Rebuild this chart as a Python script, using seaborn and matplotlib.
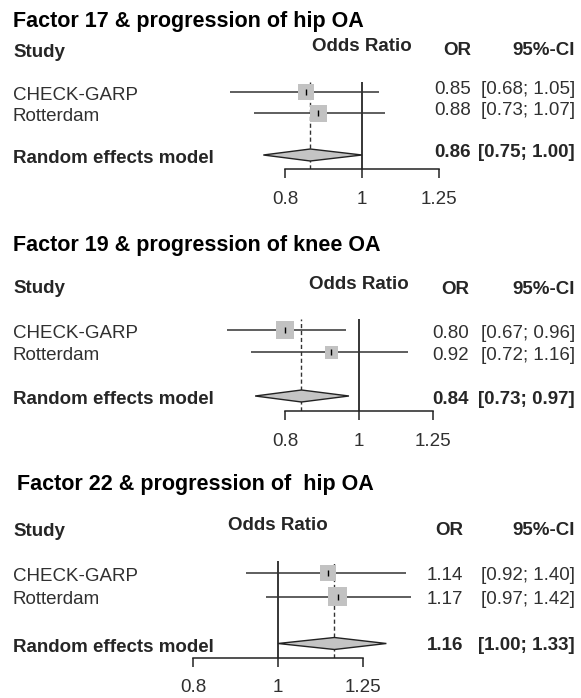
import matplotlib
matplotlib.use("Agg")
import matplotlib.pyplot as plt
import matplotlib.transforms as mtransforms
from matplotlib.patches import Polygon
from matplotlib.ticker import NullLocator
import numpy as np
import pandas as pd
import seaborn as sns

# --- data ---
titles = ["Factor 17 & progression of hip OA",
          "Factor 19 & progression of knee OA",
          "Factor 22 & progression of  hip OA"]
studies = ["CHECK-GARP", "Rotterdam"]
pooled_label = "Random effects model"

or_f17 = [0.85, 0.88]
lo_f17 = [0.68, 0.73]
hi_f17 = [1.05, 1.07]
pooled_f17 = [0.86, 0.75, 1.00]
weight_f17 = [16, 17]

or_f19 = [0.80, 0.92]
lo_f19 = [0.67, 0.72]
hi_f19 = [0.96, 1.16]
pooled_f19 = [0.84, 0.73, 0.97]
weight_f19 = [18, 13]

or_f22 = [1.14, 1.17]
lo_f22 = [0.92, 0.97]
hi_f22 = [1.40, 1.42]
pooled_f22 = [1.16, 1.00, 1.33]
weight_f22 = [16, 19]

ticks = [0.8, 1, 1.25]
tick_labels = ["0.8", "1", "1.25"]

W, H = 581, 698
DPI = 100
PT = 72 / DPI  # points per pixel

sns.set_theme(style="white")
plt.rcParams["font.family"] = ["Liberation Sans", "DejaVu Sans"]

BODY = 13.5
TITLE = 15.5
GREY_TXT = "#303030"

# layout of each panel, in pixels of the 581x698 picture
layout = [
    dict(row1=92, step=21, axis=169, one=362, scale=343, or_right=471,
         num_dy=2, title_y=27, study_y=57, odds_y=51, hdr_y=55, title_x=13),
    dict(row1=330, step=22, axis=411, one=359, scale=330, or_right=469,
         num_dy=8, title_y=251, study_y=293, odds_y=289, hdr_y=294, title_x=13),
    dict(row1=573, step=23.5, axis=658, one=278, scale=380, or_right=463,
         num_dy=7, title_y=490, study_y=536, odds_y=530, hdr_y=535, title_x=17),
]
data = [
    (or_f17, lo_f17, hi_f17, pooled_f17, weight_f17),
    (or_f19, lo_f19, hi_f19, pooled_f19, weight_f19),
    (or_f22, lo_f22, hi_f22, pooled_f22, weight_f22),
]

fig = plt.figure(figsize=(W / DPI, H / DPI), dpi=DPI)


def fx(px):
    return px / W


def fy(py):
    return 1 - py / H


AX_L, AX_R = 180, 470

for title, lay, (est, lo, hi, pooled, weight) in zip(titles, layout, data):
    df = pd.DataFrame({"study": studies, "est": est, "lo": lo, "hi": hi,
                       "row": np.arange(len(studies)), "w": weight})
    pooled_row = len(studies) + 1

    top = lay["row1"] - 0.5 * lay["step"]
    ax = fig.add_axes([fx(AX_L), fy(lay["axis"]), fx(AX_R - AX_L),
                       (lay["axis"] - top) / H])
    ax.set_xscale("log")
    xl = np.exp((AX_L - lay["one"]) / lay["scale"])
    xr = np.exp((AX_R - lay["one"]) / lay["scale"])
    ax.set_xlim(xl, xr)
    ybot = (lay["axis"] - lay["row1"]) / lay["step"]
    ax.set_ylim(ybot, -0.5)

    # reference line at 1 and dashed line at pooled estimate
    ax.axvline(1, color="black", lw=1.1, zorder=1)
    ax.axvline(pooled[0], color="#333333", lw=1.0, ls=(0, (3, 2)), zorder=1)

    # confidence intervals and weighted squares
    ax.hlines(df["row"], df["lo"], df["hi"], color="#333333", lw=1.1, zorder=2)
    sns.scatterplot(data=df, x="est", y="row", marker="s",
                    s=(df["w"] * PT) ** 2, color="#c2c2c2", linewidth=0,
                    legend=False, ax=ax, zorder=3)
    ax.plot(df["est"], df["row"], marker="|", ms=4, mew=1.0, ls="none",
            color="black", zorder=4)

    # pooled diamond
    hh = 6 / lay["step"]
    diamond = Polygon([(pooled[1], pooled_row), (pooled[0], pooled_row - hh),
                       (pooled[2], pooled_row), (pooled[0], pooled_row + hh)],
                      closed=True, facecolor="#c4c4c4", edgecolor="#222222",
                      lw=1.0, zorder=3)
    ax.add_patch(diamond)

    # axis styling
    for side in ["top", "right", "left"]:
        ax.spines[side].set_visible(False)
    ax.spines["bottom"].set_bounds(ticks[0], ticks[-1])
    ax.spines["bottom"].set_color("#222222")
    ax.spines["bottom"].set_linewidth(1.1)
    ax.set_xticks(ticks)
    ax.set_xticklabels(tick_labels)
    ax.xaxis.set_minor_locator(NullLocator())
    ax.tick_params(axis="x", direction="out", length=9 * PT, width=1.1,
                   color="#222222", pad=9, labelsize=BODY,
                   labelcolor=GREY_TXT, bottom=True)
    ax.set_yticks([])
    ax.set_xlabel("")
    ax.set_ylabel("")
    ax.patch.set_alpha(0)

    # texts
    fig.text(fx(lay["title_x"]), fy(lay["title_y"]), title, fontsize=TITLE,
             fontweight="bold", color="black", va="baseline")
    fig.text(fx(13), fy(lay["study_y"]), "Study", fontsize=BODY,
             fontweight="bold", va="baseline")
    odds_tr = mtransforms.blended_transform_factory(ax.transData,
                                                    fig.transFigure)
    ax.text(1, fy(lay["odds_y"]), "Odds Ratio", transform=odds_tr,
            fontsize=BODY, fontweight="bold", ha="center", va="baseline")
    fig.text(fx(lay["or_right"]), fy(lay["hdr_y"]), "OR", fontsize=BODY,
             fontweight="bold", ha="right", va="baseline")
    fig.text(fx(575), fy(lay["hdr_y"]), "95%-CI", fontsize=BODY,
             fontweight="bold", ha="right", va="baseline")

    row_tr = mtransforms.blended_transform_factory(fig.transFigure,
                                                   ax.transData)
    lab_tr = mtransforms.offset_copy(row_tr, fig=fig, y=-8 * PT,
                                     units="points")
    num_tr = mtransforms.offset_copy(row_tr, fig=fig, y=-lay["num_dy"] * PT,
                                     units="points")
    for _, r in df.iterrows():
        ax.text(fx(13), r["row"], r["study"], transform=lab_tr,
                fontsize=BODY, color=GREY_TXT, va="baseline")
        ax.text(fx(lay["or_right"]), r["row"], f"{r['est']:.2f}",
                transform=num_tr, fontsize=BODY, color=GREY_TXT,
                ha="right", va="baseline")
        ax.text(fx(575), r["row"], f"[{r['lo']:.2f}; {r['hi']:.2f}]",
                transform=num_tr, fontsize=BODY, color=GREY_TXT,
                ha="right", va="baseline")
    ax.text(fx(13), pooled_row, pooled_label, transform=lab_tr,
            fontsize=BODY, fontweight="bold", va="baseline")
    ax.text(fx(lay["or_right"]), pooled_row, f"{pooled[0]:.2f}",
            transform=num_tr, fontsize=BODY, fontweight="bold",
            ha="right", va="baseline")
    ax.text(fx(575), pooled_row, f"[{pooled[1]:.2f}; {pooled[2]:.2f}]",
            transform=num_tr, fontsize=BODY, fontweight="bold",
            ha="right", va="baseline")

fig.savefig("out.png", dpi=DPI)
